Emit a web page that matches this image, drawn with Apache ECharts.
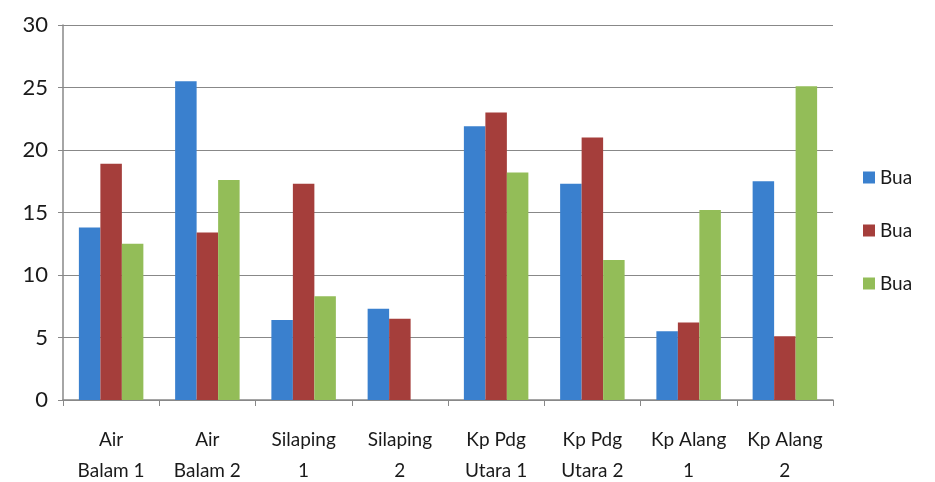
<!DOCTYPE html>
<html><head><meta charset="utf-8">
<script src="https://cdn.jsdelivr.net/npm/echarts@6/dist/echarts.min.js"></script>
<style>html,body{margin:0;padding:0;background:#fff}#c{width:935px;height:482px}</style>
</head><body><div id="c"></div>
<script>
const categories = ['Air\nBalam 1','Air\nBalam 2','Silaping\n1','Silaping\n2','Kp Pdg\nUtara 1','Kp Pdg\nUtara 2','Kp Alang\n1','Kp Alang\n2'];
const seriesNames = ['Bua','Bua ','Bua  '];
const series1 = [13.8, 25.5, 6.4, 7.3, 21.9, 17.3, 5.5, 17.5];
const series2 = [18.9, 13.4, 17.3, 6.5, 23.0, 21.0, 6.2, 5.1];
const series3 = [12.5, 17.6, 8.3, 0, 18.2, 11.2, 15.2, 25.1];
const yTicks = [0, 5, 10, 15, 20, 25, 30];
const colors = ['#3A80CE','#A53E3B','#93BD58'];
const font = 'Lato';
const chart = echarts.init(document.getElementById('c'));
chart.setOption({
  animation:false,
  color: colors,
  grid:{left:63,right:102,top:25,bottom:82,containLabel:false,outerBoundsMode:'none'},
  legend:{orient:'vertical',left:858,top:163,itemGap:34,itemWidth:12,itemHeight:12,icon:'rect',
    textStyle:{fontFamily:font,fontSize:19,color:'#1a1a1a'},
    data:seriesNames},
  xAxis:{type:'category',data:categories,
    axisLine:{lineStyle:{color:'#888',width:1.5}},
    axisTick:{show:true,length:6,lineStyle:{color:'#888'},alignWithLabel:false},
    axisLabel:{fontFamily:font,fontSize:19,color:'#1a1a1a',margin:24,lineHeight:31,interval:0}},
  yAxis:{type:'value',min:yTicks[0],max:yTicks[yTicks.length-1],interval:5,
    axisLine:{show:true,lineStyle:{color:'#888',width:1.5}},
    axisTick:{show:true,length:5,lineStyle:{color:'#888'}},
    splitLine:{lineStyle:{color:'#888',width:1.2}},
    axisLabel:{fontFamily:font,fontSize:22,color:'#1a1a1a',margin:15}},
  series:[
    {name:seriesNames[0],type:'bar',data:series1,barGap:'0%',barCategoryGap:'33%'},
    {name:seriesNames[1],type:'bar',data:series2,barGap:'0%',barCategoryGap:'33%'},
    {name:seriesNames[2],type:'bar',data:series3,barGap:'0%',barCategoryGap:'33%'}
  ]
});
</script></body></html>
